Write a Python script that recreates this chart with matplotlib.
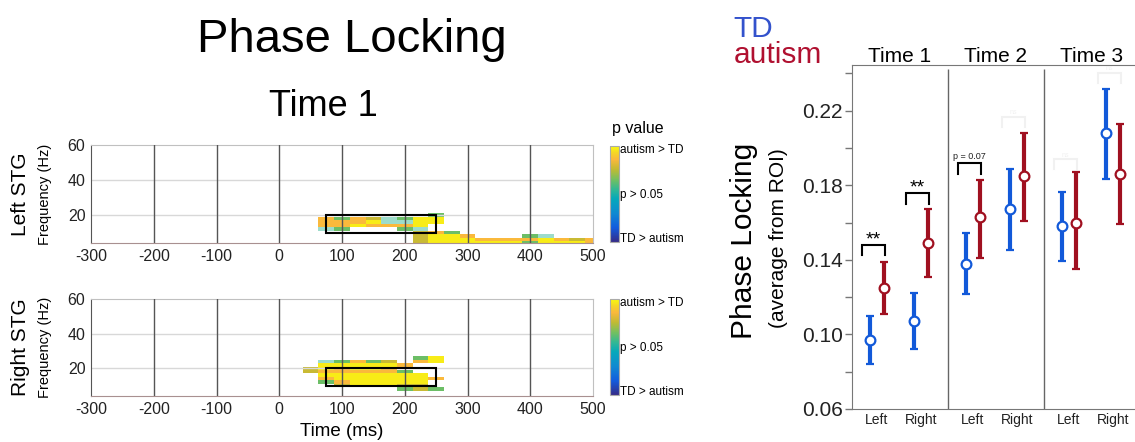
import numpy as np
import matplotlib.pyplot as plt
from matplotlib.colors import LinearSegmentedColormap
from matplotlib.patches import Rectangle

plt.rcParams['font.family'] = ['Liberation Sans', 'DejaVu Sans']
plt.rcParams['axes.unicode_minus'] = False

# ---- heatmap data (time x frequency cells) ----
time_centers = np.arange(25, 501, 25)       # ms
freq_centers = np.arange(26, 3, -2)         # Hz, rows top -> bottom

# cell codes: Y yellow, O orange, L olive, G green, t faint teal, . empty
level_value = {"Y": 0.97, "O": 0.86, "L": 0.77, "G": 0.64, "t": 0.55}

left_stg_cells = [
    "....................",  # 26
    "....................",  # 24
    "....................",  # 22
    ".........G..........",  # 20
    "..OGOLtGYY..........",  # 18
    "..OOOYttYY..........",  # 16
    "..OOYOOOY...........",  # 14
    "..tG...Gt...........",  # 12
    "........LOG.........",  # 10
    "........LYYO...Gt...",  # 8
    "........LYYYOOOOYOLO",  # 6
    "........LYYYYYYGYYYO",  # 4
]

right_stg_cells = [
    "........GY..........",  # 26
    "..tGOGL.OY..........",  # 24
    "..YYYYYO............",  # 22
    ".LYOYYO.............",  # 20
    ".LOOOOOG............",  # 18
    "..YYYYYYY...........",  # 16
    "..OYYYYYYO..........",  # 14
    "..GOYYYYY...........",  # 12
    "...LYYYLL...........",  # 10
    ".......GLG..........",  # 8
    "....................",  # 6
    "....................",  # 4
]

roi_time = (75, 250)
roi_freq = (10, 20)

# ---- phase locking summary data ----
time_names = ["Time 1", "Time 2", "Time 3"]
side_names = ["Left", "Right"]
td_mean = [0.097, 0.107, 0.138, 0.167, 0.158, 0.208]
td_low = [0.084, 0.092, 0.1215, 0.1453, 0.1396, 0.1832]
td_high = [0.110, 0.122, 0.1544, 0.1885, 0.1764, 0.2316]
aut_mean = [0.125, 0.149, 0.163, 0.185, 0.160, 0.186]
aut_low = [0.111, 0.131, 0.141, 0.161, 0.135, 0.159]
aut_high = [0.139, 0.167, 0.183, 0.208, 0.187, 0.213]

sig_labels = ["**", "**", "p = 0.07", "ns", "ns", "ns"]
sig_heights = [0.148, 0.1756, 0.1917, 0.2168, 0.1942, 0.2404]

td_color = "#1259d9"
aut_color = "#a01020"

parula = LinearSegmentedColormap.from_list("parula_like", [
    (0.00, (0.21, 0.17, 0.53)),
    (0.15, (0.07, 0.36, 0.87)),
    (0.30, (0.06, 0.54, 0.82)),
    (0.45, (0.02, 0.66, 0.73)),
    (0.55, (0.20, 0.72, 0.58)),
    (0.65, (0.45, 0.75, 0.38)),
    (0.76, (0.76, 0.73, 0.20)),
    (0.86, (0.98, 0.72, 0.24)),
    (0.93, (0.96, 0.84, 0.15)),
    (1.00, (0.98, 0.98, 0.05)),
])

W, H = 1135, 442
fig = plt.figure(figsize=(W / 100, H / 100), dpi=100)


def px_box(x0, y0, x1, y1):
    return [x0 / W, 1 - y1 / H, (x1 - x0) / W, (y1 - y0) / H]


def draw_heatmap(ax, cax, cells):
    grid = np.full((len(freq_centers), len(time_centers)), np.nan)
    faint = np.full_like(grid, np.nan)
    for r, row in enumerate(cells):
        for c, code in enumerate(row):
            if code == "t":
                faint[r, c] = level_value[code]
            elif code != ".":
                grid[r, c] = level_value[code]
    t_edges = np.append(time_centers - 12.5, time_centers[-1] + 12.5)
    f_edges = np.append(freq_centers + 1, freq_centers[-1] - 1)
    mesh = ax.pcolormesh(t_edges, f_edges, np.ma.masked_invalid(grid),
                         cmap=parula, vmin=0, vmax=1, zorder=1)
    ax.pcolormesh(t_edges, f_edges, np.ma.masked_invalid(faint),
                  cmap=parula, vmin=0, vmax=1, alpha=0.48, zorder=1)

    ax.set_xlim(-300, 500)
    ax.set_ylim(4, 60)
    ax.set_xticks(np.arange(-300, 501, 100))
    ax.set_yticks([20, 40, 60])
    ax.tick_params(length=0, labelsize=11.5, pad=4, colors="#222222")
    for x in range(-200, 500, 100):
        ax.axvline(x, color="#555555", lw=1, zorder=3)
    for y in (20, 40):
        ax.axhline(y, color="#d8d8d8", lw=1, zorder=2)
    for side in ("top", "right"):
        ax.spines[side].set_color("#c0c0c0")
    ax.spines["left"].set_color("#555555")
    ax.spines["bottom"].set_color("#a89090")
    ax.add_patch(Rectangle((roi_time[0], roi_freq[0]),
                           roi_time[1] - roi_time[0], roi_freq[1] - roi_freq[0],
                           fill=False, ec="black", lw=1.5, zorder=4))

    cb = fig.colorbar(mesh, cax=cax, ticks=[0.05, 0.51, 0.97])
    cb.ax.set_yticklabels(["TD > autism", "p > 0.05", "autism > TD"])
    cb.ax.tick_params(length=0, labelsize=8.5, pad=1)
    cb.outline.set_edgecolor("#aaaaaa")
    cb.outline.set_linewidth(0.8)


ax_top = fig.add_axes(px_box(91, 145, 593, 243))
cax_top = fig.add_axes(px_box(610, 146, 619, 242))
draw_heatmap(ax_top, cax_top, left_stg_cells)

ax_bot = fig.add_axes(px_box(91, 299, 593, 396))
cax_bot = fig.add_axes(px_box(610, 299, 619, 395))
draw_heatmap(ax_bot, cax_bot, right_stg_cells)

fig.text(352 / W, 1 - 52 / H, "Phase Locking", fontsize=34, ha="center", va="baseline")
fig.text(323 / W, 1 - 116 / H, "Time 1", fontsize=26, ha="center", va="baseline")
fig.text(612 / W, 1 - 133 / H, "p value", fontsize=11.5, ha="left", va="baseline")
fig.text(20 / W, 1 - 194 / H, "Left STG", fontsize=15, rotation=90, ha="center", va="center")
fig.text(45 / W, 1 - 194 / H, "Frequency (Hz)", fontsize=10.5, rotation=90, ha="center", va="center")
fig.text(20 / W, 1 - 347 / H, "Right STG", fontsize=15, rotation=90, ha="center", va="center")
fig.text(45 / W, 1 - 347 / H, "Frequency (Hz)", fontsize=10.5, rotation=90, ha="center", va="center")
fig.text(342 / W, 1 - 432 / H, "Time (ms)", fontsize=13.5, ha="center", va="center")

# ---- right panel ----
ax = fig.add_axes(px_box(852, 65, 1140, 409))
panel_offsets = [0.78, 2.16]
group_x = np.array([3 * p + o for p in range(3) for o in panel_offsets])
dodge = 0.23

ax.errorbar(group_x - dodge, td_mean,
            yerr=[np.subtract(td_mean, td_low), np.subtract(td_high, td_mean)],
            fmt="o", color=td_color, mfc="white", mec=td_color, ms=7, mew=1.6,
            elinewidth=3, capsize=3.2, capthick=3, zorder=3)
ax.errorbar(group_x + dodge, aut_mean,
            yerr=[np.subtract(aut_mean, aut_low), np.subtract(aut_high, aut_mean)],
            fmt="o", color=aut_color, mfc="white", mec=aut_color, ms=7, mew=1.6,
            elinewidth=3, capsize=3.2, capthick=3, zorder=3)

for gx, lab, hy in zip(group_x, sig_labels, sig_heights):
    faint = lab == "ns"
    col = "#f1f1f1" if faint else "black"
    x0, x1 = gx - dodge - 0.25, gx + dodge + 0.03
    ax.plot([x0, x0, x1, x1], [hy - 0.0054, hy, hy, hy - 0.0054],
            color=col, lw=1.5, solid_joinstyle="miter", zorder=2)
    if lab == "**":
        ax.text((x0 + x1) / 2, hy + 0.0004, lab, fontsize=14, ha="center", va="baseline")
    elif faint:
        ax.text((x0 + x1) / 2, hy + 0.0012, lab, fontsize=5, ha="center",
                va="baseline", color=col)
    else:
        ax.text((x0 + x1) / 2, hy + 0.0022, lab, fontsize=6.5, ha="center",
                va="baseline", color="#222222")

ax.vlines([3, 6], 0.06, 0.2425, color="#666666", lw=1)
ax.set_xlim(0, 9)
ax.set_ylim(0.06, 0.2445)
ax.set_yticks([0.06, 0.10, 0.14, 0.18, 0.22])
ax.set_yticklabels(["%.2f" % v for v in [0.06, 0.10, 0.14, 0.18, 0.22]])
ax.set_yticks([0.08, 0.12, 0.16, 0.20, 0.24], minor=True)
ax.tick_params(axis="y", which="both", length=5, width=1, color="#777777",
               labelsize=15, pad=1.5, labelcolor="#222222")
ax.set_xticks(group_x)
ax.set_xticklabels(side_names * 3)
ax.tick_params(axis="x", length=0, labelsize=10, pad=3, labelcolor="#222222")
ax.spines["right"].set_visible(False)
for side in ("left", "bottom", "top"):
    ax.spines[side].set_color("#777777")

for i, name in enumerate(time_names):
    ax.text(3 * i + 1.5, 1.009, name, fontsize=15, ha="center", va="baseline",
            transform=ax.get_xaxis_transform())

fig.text(744 / W, 1 - 241 / H, "Phase Locking", fontsize=21.5, rotation=90, ha="center", va="center")
fig.text(778 / W, 1 - 238 / H, "(average from ROI)", fontsize=15, rotation=90, ha="center", va="center")
fig.text(733 / W, 1 - 37 / H, "TD", fontsize=21.5, color="#3352cc", ha="left", va="baseline")
fig.text(734 / W, 1 - 63 / H, "autism", fontsize=21.5, color="#b01030", ha="left", va="baseline")

fig.savefig("out.png", dpi=100)
